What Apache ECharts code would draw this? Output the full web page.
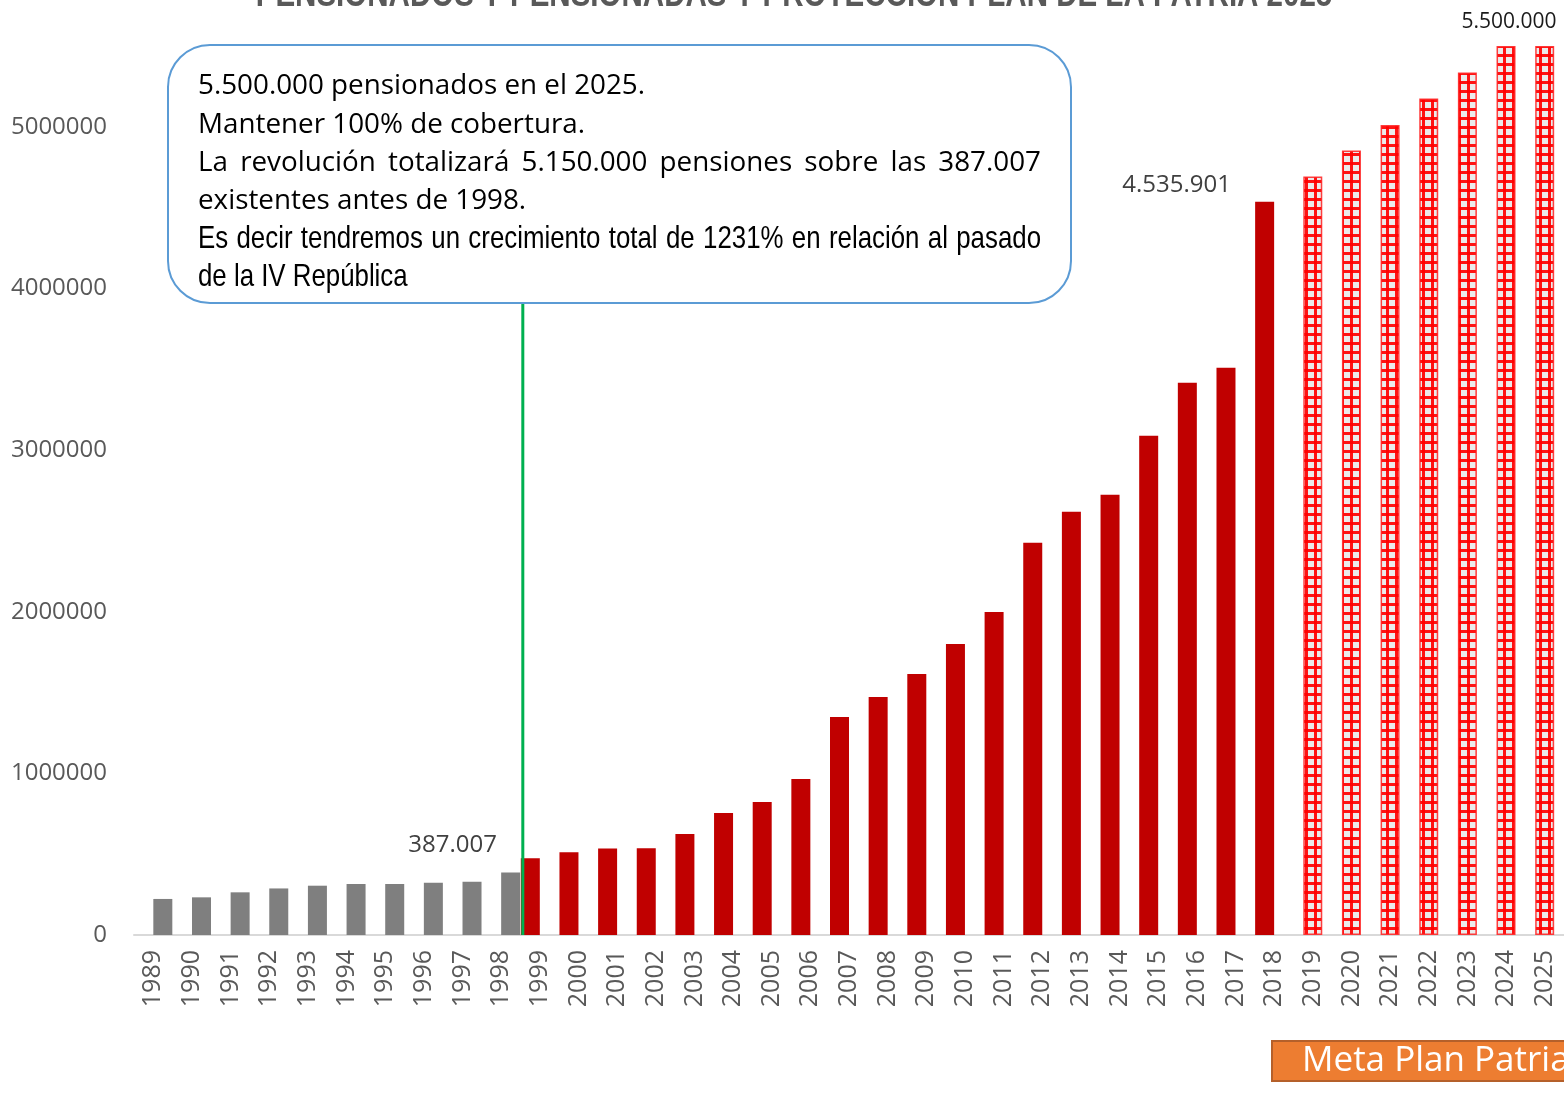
<!DOCTYPE html>
<html>
<head>
<meta charset="utf-8">
<script src="https://cdn.jsdelivr.net/npm/echarts@6/dist/echarts.min.js"></script>
<style>
html,body{margin:0;padding:0;background:#fff;}
#chart{width:1564px;height:1100px;}
</style>
</head>
<body>
<div id="chart"></div>
<script>
// ---- DATA ----
const years = ['1989','1990','1991','1992','1993','1994','1995','1996','1997','1998',
  '1999','2000','2001','2002','2003','2004','2005','2006','2007','2008',
  '2009','2010','2011','2012','2013','2014','2015','2016','2017','2018',
  '2019','2020','2021','2022','2023','2024','2025'];
const grayYears = ['1989','1990','1991','1992','1993','1994','1995','1996','1997','1998'];
const grayValues = [223000, 233000, 264000, 288000, 305000, 316000, 316000, 324000, 330000, 387007];
const redYears = ['1999','2000','2001','2002','2003','2004','2005','2006','2007','2008',
  '2009','2010','2011','2012','2013','2014','2015','2016','2017','2018'];
const redValues = [475000, 512000, 535000, 537000, 625000, 755000, 823000, 965000, 1349000, 1473000,
  1615000, 1801000, 1999000, 2426000, 2618000, 2723000, 3088000, 3416000, 3509000, 4535901];
const goalYears = ['2019','2020','2021','2022','2023','2024','2025'];
const goalValues = [4692000, 4853000, 5012000, 5175000, 5336000, 5500000, 5500000];
const yTicks = [0, 1000000, 2000000, 3000000, 4000000, 5000000];
const titleText = 'PENSIONADOS Y PENSIONADAS Y PROTECCIÓN PLAN DE LA PATRIA 2025';
const boxLines = [
  '5.500.000 pensionados en el 2025.',
  'Mantener 100% de cobertura.',
  'La revolución totalizará 5.150.000 pensiones sobre las 387.007',
  'existentes antes de 1998.',
  'Es decir tendremos un crecimiento total de 1231% en relación al pasado',
  'de la IV República'
];
const metaText = 'Meta Plan Patria';
const dividerPos = 9.56; // boundary between 1998 and 1999

// ---- helpers ----
function fmt(v){ return String(v).replace(/\B(?=(\d{3})+(?!\d))/g, '.'); }
function fullSeries(ys, vs){
  return years.map(y => { const i = ys.indexOf(y); return i >= 0 ? vs[i] : null; });
}
const grayData = fullSeries(grayYears, grayValues).map((v,i)=> years[i]==='1998' && v!=null ? {value:v, label:{show:true, position:'top', offset:[-58,-10], formatter:p=>fmt(p.value), color:'#404040', fontSize:24, fontFamily:'Open Sans'}} : v);
const redData = fullSeries(redYears, redValues).map((v,i)=> years[i]==='2018' && v!=null ? {value:v, label:{show:true, position:'top', offset:[-88,0], formatter:p=>fmt(p.value), color:'#404040', fontSize:24, fontFamily:'Open Sans'}} : v);
const goalData = fullSeries(goalYears, goalValues).map((v,i)=> years[i]==='2024' && v!=null ? {value:v, label:{show:true, position:'top', offset:[3,-8], formatter:p=>fmt(p.value), color:'#1a1a1a', fontSize:21, fontFamily:'Open Sans'}} : v);

// pattern
const pc = document.createElement('canvas');
pc.width = 9; pc.height = 9;
const pctx = pc.getContext('2d');
pctx.fillStyle = '#ebebeb'; pctx.fillRect(0,0,9,9);
pctx.fillStyle = 'rgba(255,0,0,0.92)';
pctx.fillRect(0,0,3,9);
pctx.fillRect(0,0,9,3);

// text layout (justified)
const mctx = document.createElement('canvas').getContext('2d');
function lineEls(text, x0, x1, y, size, family, sx, justify){
  const font = size + 'px "' + family + '"';
  const mk = (t, x) => ({type:'text', x:x, y:y, scaleX:sx, z:101,
    style:{text:t, font:font, fill:'#000', verticalAlign:'middle', textAlign:'left'}});
  if(!justify) return [mk(text, x0)];
  mctx.font = font;
  const words = text.split(' ');
  const ws = words.map(w=>mctx.measureText(w).width * sx);
  const tot = ws.reduce((a,b)=>a+b,0);
  const gap = (x1-x0-tot)/(words.length-1);
  let x = x0;
  return words.map((w,i)=>{ const e = mk(w, x); x += ws[i]+gap; return e; });
}
const boxY = [86, 125, 163, 201, 239, 277];
let textEls = [];
textEls = textEls.concat(lineEls(boxLines[0], 198, 1041, boxY[0], 27.8, 'Open Sans', 1, false));
textEls = textEls.concat(lineEls(boxLines[1], 198, 1041, boxY[1], 27.8, 'Open Sans', 1, false));
textEls = textEls.concat(lineEls(boxLines[2], 198, 1041, boxY[2], 27.8, 'Open Sans', 1, true));
textEls = textEls.concat(lineEls(boxLines[3], 198, 1041, boxY[3], 27.8, 'Open Sans', 1, false));
textEls = textEls.concat(lineEls(boxLines[4], 198, 1041, boxY[4], 31.5, 'Liberation Sans', 0.82, true));
textEls = textEls.concat(lineEls(boxLines[5], 198, 1041, boxY[5], 31.5, 'Liberation Sans', 0.82, false));

const chart = echarts.init(document.getElementById('chart'));
chart.setOption({
  animation: false,
  backgroundColor: '#fff',
  grid: {left: 134, top: 46, width: 1433, bottom: 165, containLabel: false},
  xAxis: [{
    type: 'category', data: years,
    axisLine: {lineStyle: {color: '#d9d9d9', width: 2}},
    axisTick: {show: false},
    axisLabel: {rotate: 90, interval: 0, margin: 15, color: '#595959', fontSize: 25, fontFamily: 'Open Sans'}
  }, {
    type: 'value', min: -0.5, max: years.length - 0.5, show: false
  }],
  yAxis: {
    type: 'value', min: 0, max: 5500000, interval: 1000000,
    splitLine: {show: false},
    axisLine: {show: false}, axisTick: {show: false},
    axisLabel: {showMaxLabel: false, margin: 27, color: '#595959', fontSize: 24, fontFamily: 'Open Sans',
      formatter: v => yTicks.indexOf(v) >= 0 ? String(v) : ''}
  },
  series: [
    {type: 'bar', name: 'real', data: redData, barWidth: 19, barGap: '-50%', itemStyle: {color: '#c00000'}},
    {type: 'bar', name: 'meta', data: goalData, barWidth: 19, barGap: '-50%',
      itemStyle: {color: {image: pc, repeat: 'repeat'}, borderColor: 'rgba(255,30,30,0.85)', borderWidth: 1.5}},
    {type: 'bar', name: 'previo', data: grayData, barWidth: 19, barGap: '-50%', itemStyle: {color: '#7f7f7f'}},
    {type: 'line', xAxisIndex: 1, yAxisIndex: 0, data: [[dividerPos, 0], [dividerPos, 3950000]],
      symbol: 'none', lineStyle: {color: '#00b050', width: 3}, z: 5, silent: true}
  ],
  graphic: [
    {type: 'text', x: 794, y: -4, scaleX: 0.82, z: 100, style: {text: titleText, font: 'bold 36px "Liberation Sans"', fill: '#595959', textAlign: 'center', verticalAlign: 'middle'}},
    {type: 'rect', z: 100, shape: {x: 168, y: 45, width: 903, height: 258, r: 42},
      style: {fill: '#fff', stroke: '#5b9bd5', lineWidth: 2}},
    {type: 'rect', z: 100, shape: {x: 1272, y: 1041, width: 320, height: 40},
      style: {fill: '#ed7d31', stroke: '#b5602a', lineWidth: 2}},
    {type: 'text', x: 1302, y: 1061, z: 101, style: {text: metaText, font: '35px "Open Sans"', fill: '#fff', verticalAlign: 'middle', textAlign: 'left'}}
  ].concat(textEls)
});
</script>
</body>
</html>
